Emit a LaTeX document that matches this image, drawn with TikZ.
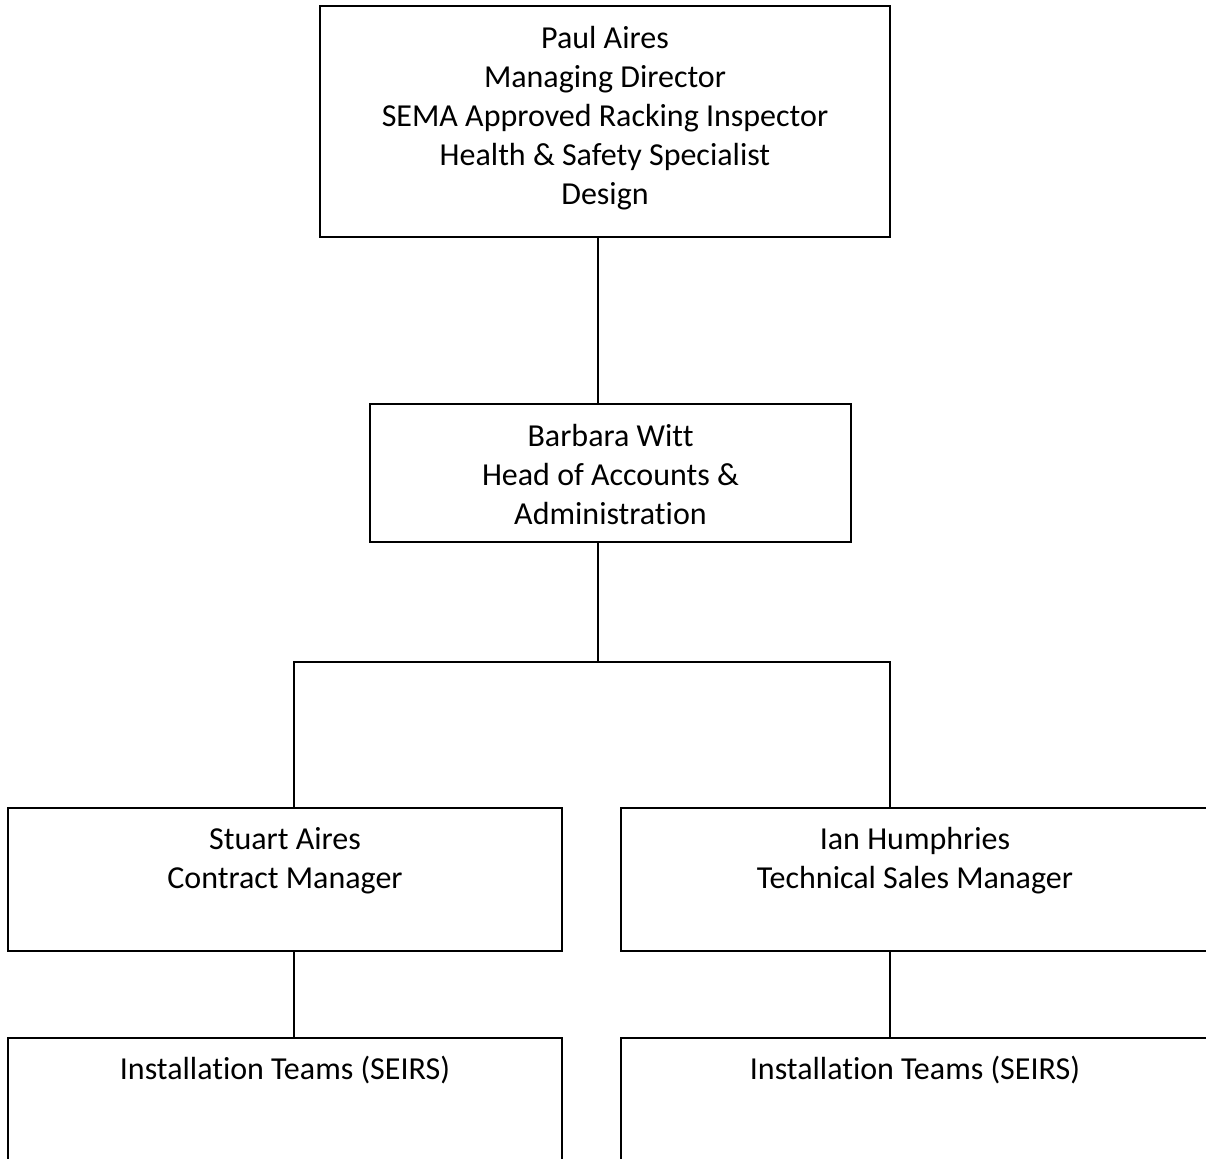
\documentclass[tikz,border=0pt]{standalone}
\usepackage{fontspec}
\setmainfont{Carlito}[Ligatures=CommonOff]
\usepackage{tikz}
\usetikzlibrary{positioning}

\begin{document}
\begin{tikzpicture}[x=0.5pt, y=-0.5pt, line width=1pt,
      box/.style={draw, fill=white, inner sep=0pt, minimum height=71.5pt},
      txt/.style={align=center, inner sep=0pt, anchor=north, font=\fontsize{16pt}{19.5pt}\selectfont}]
    \path[use as bounding box] (0,0) rectangle (1206,1158);
    \clip (0,0) rectangle (1206,1158);
    % boxes
    \node[box, minimum width=285pt, minimum height=115.5pt] (paul) at (605,121.5) {};
    \node[box, minimum width=240.5pt, minimum height=69pt] (barbara) at (610.5,473) {};
    \node[box, minimum width=277pt] (stuart) at (285,879.5) {};
    \node[box, minimum width=294pt] (ian) at (915,879.5) {};
    \node[box, minimum width=277pt, minimum height=80pt] (teamsL) at (285,1118) {};
    \node[box, minimum width=294pt, minimum height=80pt] (teamsR) at (915,1118) {};
    % texts
    \node[txt, below=7.6pt of paul.north] (paulT) {\strut Paul Aires\\Managing Director\\SEMA Approved Racking Inspector\\Health \& Safety Specialist\\Design};
    \node[txt, below=7.6pt of barbara.north] (barbaraT) {\strut Barbara Witt\\Head of Accounts \&\\Administration};
    \node[txt, below=7pt of stuart.north] (stuartT) {\strut Stuart Aires\\Contract Manager};
    \node[txt, below=7pt of ian.north] (ianT) {\strut Ian Humphries\\Technical Sales Manager};
    \node[txt, below=7pt of teamsL.north] (teamsLT) {\strut Installation Teams (SEIRS)};
    \node[txt, below=7pt of teamsR.north] (teamsRT) {\strut Installation Teams (SEIRS)};
    % connectors
    \coordinate (split) at (598,662);
    \coordinate (busL) at (294,662);
    \coordinate (busR) at (890,662);
    \draw (paul.south -| split) -- (barbara.north -| split);
    \draw (barbara.south -| split) -- (split);
    \draw (busL |- stuart.north) -- (busL) -- (busR) -- (busR |- ian.north);
    \draw (busL |- stuart.south) -- (busL |- teamsL.north);
    \draw (busR |- ian.south) -- (busR |- teamsR.north);
  \end{tikzpicture}
\end{document}
